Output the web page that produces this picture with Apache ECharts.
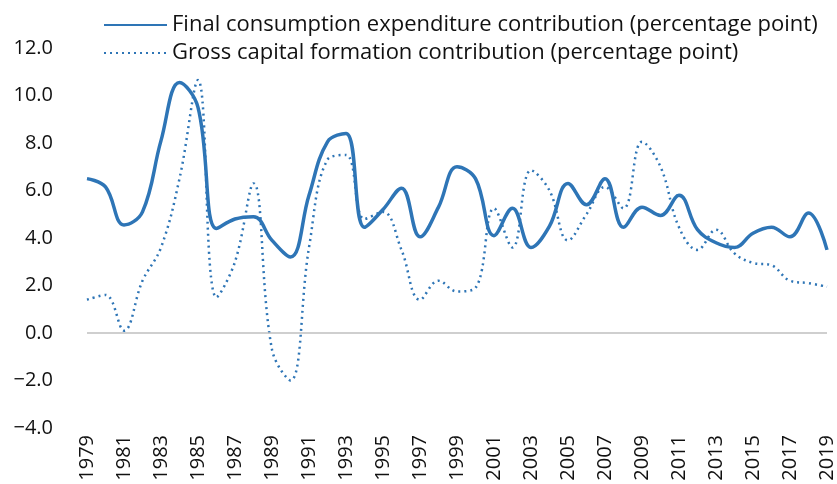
<!DOCTYPE html>
<html>
<head>
<meta charset="utf-8">
<script src="https://cdn.jsdelivr.net/npm/echarts@6/dist/echarts.min.js"></script>
<style>
html, body { margin: 0; padding: 0; background: #fff; }
#main { width: 837px; height: 484px; }
</style>
</head>
<body>
<div id="main"></div>
<script>
// years 1979 - 2019
var years = [];
for (var y = 1979; y <= 2019; y++) { years.push(String(y)); }

var consumption = [6.5, 6.15, 4.55, 5.1, 8.1, 10.55, 9.5, 4.4, 4.8, 4.9,
    3.9, 3.2, 5.8, 8.05, 8.4, 4.45, 5.2, 6.1, 4.05, 5.3,
    7.0, 6.5, 4.1, 5.25, 3.6, 4.5, 6.3, 5.4, 6.5, 4.45,
    5.3, 4.95, 5.8, 4.35, 3.8, 3.6, 4.2, 4.45, 4.05, 5.05, 3.5];

var capital = [1.4, 1.6, 0.1, 2.2, 3.6, 6.5, 10.65, 1.5, 3.0, 6.3,
    -0.7, -2.0, 3.6, 7.3, 7.5, 4.8, 5.1, 3.5, 1.4, 2.2,
    1.75, 1.9, 5.25, 3.6, 6.85, 6.0, 3.9, 5.0, 6.15, 5.25,
    8.05, 7.0, 4.45, 3.5, 4.35, 3.35, 2.95, 2.85, 2.2, 2.1, 1.95];

var seriesNames = ['Final consumption expenditure contribution (percentage point)',
    'Gross capital formation contribution (percentage point)'];

var blue = '#2E75B6';
var font = 'Open Sans';

var myChart = echarts.init(document.getElementById('main'));
var option = {
    animation: false,
    textStyle: { fontFamily: font },
    legend: {
        orient: 'vertical',
        left: 98,
        top: 8,
        itemWidth: 63,
        itemHeight: 12,
        itemGap: 4,
        itemStyle: { opacity: 0 },
        textStyle: { fontSize: 22, lineHeight: 24, color: '#111', fontFamily: font },
        data: seriesNames
    },
    grid: { left: 87, right: 10, top: 48, bottom: 56 },
    xAxis: {
        type: 'category',
        data: years,
        boundaryGap: false,
        axisLine: { show: false, onZero: false },
        axisTick: { show: false },
        axisLabel: {
            rotate: 90,
            interval: 1,
            fontSize: 20,
            color: '#111',
            margin: 7
        }
    },
    yAxis: {
        type: 'value',
        min: -4,
        max: 12,
        interval: 2,
        splitLine: { show: false },
        axisLine: { show: false },
        axisTick: { show: false },
        axisLabel: {
            fontSize: 20,
            color: '#111',
            margin: 34,
            formatter: function (v) {
                return (v < 0 ? '\u2212' : '') + Math.abs(v).toFixed(1);
            }
        }
    },
    series: [{
        name: seriesNames[0],
        type: 'line',
        data: consumption,
        smooth: 0.4,
        showSymbol: false,
        symbol: 'none',
        lineStyle: { color: blue, width: 3.5 },
        itemStyle: { color: blue },
        markLine: {
            silent: true,
            symbol: 'none',
            label: { show: false },
            lineStyle: { color: '#BFBFBF', type: 'solid', width: 1.5 },
            data: [{ yAxis: 0 }]
        },
        z: 3
    }, {
        name: seriesNames[1],
        type: 'line',
        data: capital,
        smooth: 0.4,
        showSymbol: false,
        symbol: 'none',
        lineStyle: { color: blue, width: 2.5, type: [2, 4] },
        itemStyle: { color: blue },
        z: 2
    }]
};
myChart.setOption(option);
</script>
</body>
</html>
